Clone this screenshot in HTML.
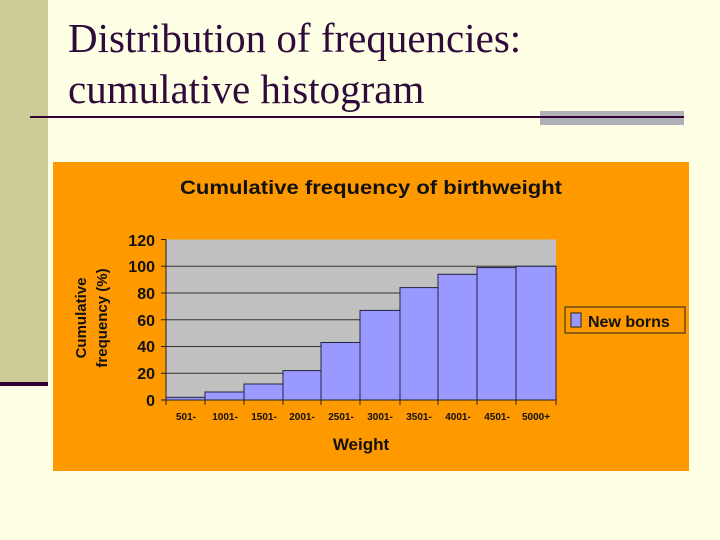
<!DOCTYPE html>
<html><head><style>
body{margin:0;width:720px;height:540px;background:#ffffe5;position:relative;overflow:hidden;font-family:"Liberation Sans",sans-serif}
.side{position:absolute;left:0;top:0;width:48px;height:383px;background:#cccc99}
.sidel{position:absolute;left:0;top:382px;width:48px;height:4px;background:#330033}
.t{position:absolute;left:68px;font-family:"Liberation Serif",serif;font-size:41px;color:#2e0b3a;line-height:1}
</style></head><body>
<div class="side"></div><div class="sidel"></div>
<div class="t" style="top:18px">Distribution of frequencies:</div>
<div class="t" style="top:69px">cumulative histogram</div>
<div style="position:absolute;left:540px;top:111px;width:144px;height:14px;background:#b0b0b8"></div>
<div style="position:absolute;left:30px;top:116px;width:654px;height:2px;background:#330033"></div>
<svg style="position:absolute;left:0;top:0" width="720" height="540">
<rect x="53" y="162" width="636" height="309" fill="#ff9900"/>
<text x="180" y="194" textLength="382" lengthAdjust="spacingAndGlyphs" font-family="Liberation Sans" font-weight="bold" font-size="19" fill="#111">Cumulative frequency of birthweight</text>
<rect x="166" y="239.5" width="390" height="160.5" fill="#c0c0c0"/>
<g stroke="#333" stroke-width="1">
<line x1="166" x2="556" y1="266.25" y2="266.25"/>
<line x1="166" x2="556" y1="293" y2="293"/>
<line x1="166" x2="556" y1="319.75" y2="319.75"/>
<line x1="166" x2="556" y1="346.5" y2="346.5"/>
<line x1="166" x2="556" y1="373.25" y2="373.25"/>
</g>
<g fill="#9999ff" stroke="#222240" stroke-width="1">
<rect x="166" y="397.3" width="39" height="2.7"/>
<rect x="205" y="392" width="39" height="8"/>
<rect x="244" y="384" width="39" height="16"/>
<rect x="283" y="370.6" width="38" height="29.4"/>
<rect x="321" y="342.5" width="39" height="57.5"/>
<rect x="360" y="310.4" width="40" height="89.6"/>
<rect x="400" y="287.6" width="38" height="112.4"/>
<rect x="438" y="274.3" width="39" height="125.7"/>
<rect x="477" y="267.6" width="39" height="132.4"/>
<rect x="516" y="266.25" width="40" height="133.75"/>
</g>
<g stroke="#222" stroke-width="1">
<line x1="166" x2="166" y1="239.5" y2="400"/>
<line x1="166" x2="556" y1="400" y2="400"/>
<line x1="161" x2="166" y1="239.5" y2="239.5"/><line x1="161" x2="166" y1="266.25" y2="266.25"/><line x1="161" x2="166" y1="293" y2="293"/><line x1="161" x2="166" y1="319.75" y2="319.75"/><line x1="161" x2="166" y1="346.5" y2="346.5"/><line x1="161" x2="166" y1="373.25" y2="373.25"/><line x1="161" x2="166" y1="400" y2="400"/>
<line x1="166" x2="166" y1="400" y2="405"/><line x1="205" x2="205" y1="400" y2="405"/><line x1="244" x2="244" y1="400" y2="405"/><line x1="283" x2="283" y1="400" y2="405"/><line x1="321" x2="321" y1="400" y2="405"/><line x1="360" x2="360" y1="400" y2="405"/><line x1="400" x2="400" y1="400" y2="405"/><line x1="438" x2="438" y1="400" y2="405"/><line x1="477" x2="477" y1="400" y2="405"/><line x1="516" x2="516" y1="400" y2="405"/><line x1="556" x2="556" y1="400" y2="405"/>
</g>
<g font-family="Liberation Sans" font-weight="bold" font-size="16" fill="#111" text-anchor="end">
<text x="155" y="246">120</text><text x="155" y="272">100</text><text x="155" y="299">80</text><text x="155" y="326">60</text><text x="155" y="352">40</text><text x="155" y="379">20</text><text x="155" y="406">0</text>
</g>
<g font-family="Liberation Sans" font-weight="bold" font-size="10" fill="#111" text-anchor="middle">
<text x="186" y="420">501-</text><text x="225" y="420">1001-</text><text x="264" y="420">1501-</text><text x="302" y="420">2001-</text><text x="341" y="420">2501-</text><text x="380" y="420">3001-</text><text x="419" y="420">3501-</text><text x="458" y="420">4001-</text><text x="497" y="420">4501-</text><text x="536" y="420">5000+</text>
</g>
<text x="361" y="450" text-anchor="middle" font-family="Liberation Sans" font-weight="bold" font-size="17" fill="#111">Weight</text>
<g font-family="Liberation Sans" font-weight="bold" font-size="15" fill="#111" text-anchor="middle">
<text transform="translate(86,318) rotate(-90)">Cumulative</text>
<text transform="translate(107,318) rotate(-90)">frequency (%)</text>
</g>
<rect x="565" y="307" width="120" height="26" fill="#ff9900" stroke="#222" stroke-width="1"/>
<rect x="571" y="313" width="10" height="14" fill="#9999ff" stroke="#222" stroke-width="1"/>
<text x="588" y="327" font-family="Liberation Sans" font-weight="bold" font-size="16" fill="#111">New borns</text>
</svg>
</body></html>
